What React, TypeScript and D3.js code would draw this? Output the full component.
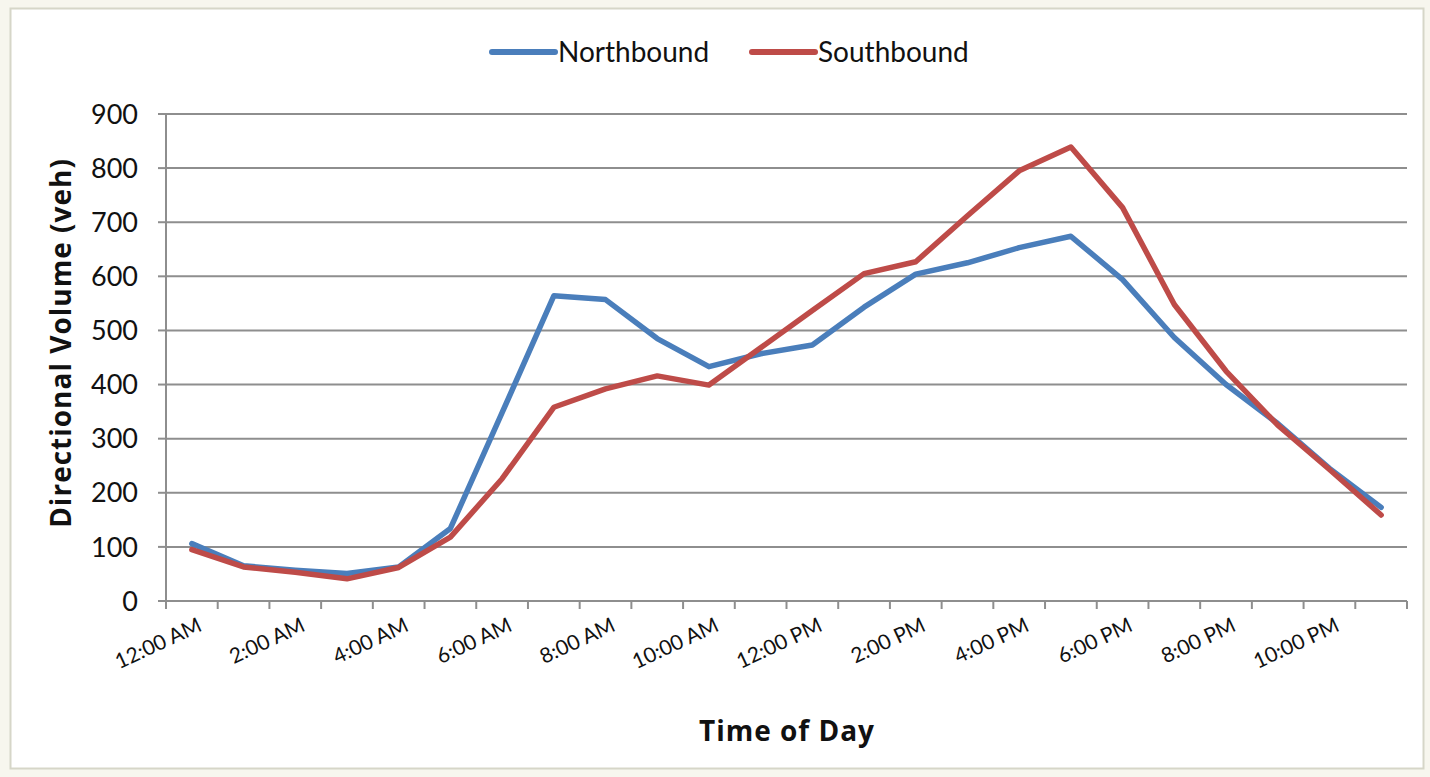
import React, { useEffect, useRef } from 'react';
import * as d3 from 'd3';

const categories = [
  '12:00 AM', '1:00 AM', '2:00 AM', '3:00 AM', '4:00 AM', '5:00 AM',
  '6:00 AM', '7:00 AM', '8:00 AM', '9:00 AM', '10:00 AM', '11:00 AM',
  '12:00 PM', '1:00 PM', '2:00 PM', '3:00 PM', '4:00 PM', '5:00 PM',
  '6:00 PM', '7:00 PM', '8:00 PM', '9:00 PM', '10:00 PM', '11:00 PM',
];
const northbound = [106, 65, 57, 51, 63, 134, 348, 564, 557, 485, 433, 457, 473, 543, 604, 625, 653, 674, 594, 487, 400, 328, 245, 173];
const southbound = [95, 63, 53, 41, 62, 118, 226, 358, 392, 416, 399, 468, 537, 605, 627, 712, 795, 839, 727, 548, 425, 325, 243, 159];
const yTicks = [0, 100, 200, 300, 400, 500, 600, 700, 800, 900];
const seriesNames = ['Northbound', 'Southbound'];
const seriesColors = ['#4a7ebb', '#be4b48'];

const W = 1430;
const H = 777;
const FONT = 'Lato, "Open Sans", sans-serif';
const TITLE_FONT = '"Open Sans", Lato, sans-serif';

export default function App() {
  const ref = useRef<SVGSVGElement | null>(null);

  useEffect(() => {
    const svg = d3.select(ref.current);
    svg.selectAll('*').remove();

    const left = 166, right = 1407, top = 114, bottom = 601;
    const x = d3.scaleBand<string>().domain(categories).range([left, right]).padding(0);
    const y = d3.scaleLinear().domain([0, 900]).range([bottom, top]);

    svg.append('rect').attr('x', 0).attr('y', 0).attr('width', W).attr('height', H).attr('fill', '#f7f6ee');
    svg.append('rect').attr('x', 10.5).attr('y', 8.5).attr('width', 1413).attr('height', 760)
      .attr('fill', '#ffffff').attr('stroke', '#d6d6c8').attr('stroke-width', 2);

    // gridlines
    svg.append('g').selectAll('line').data(yTicks.filter(d => d > 0)).join('line')
      .attr('x1', left).attr('x2', right)
      .attr('y1', d => y(d)).attr('y2', d => y(d))
      .attr('stroke', '#8e8e8e').attr('stroke-width', 2);

    // y axis
    const ya = svg.append('g');
    ya.append('line').attr('x1', left).attr('x2', left).attr('y1', top).attr('y2', bottom)
      .attr('stroke', '#8e8e8e').attr('stroke-width', 2);
    ya.selectAll('line.t').data(yTicks).join('line').attr('class', 't')
      .attr('x1', left - 8).attr('x2', left).attr('y1', d => y(d)).attr('y2', d => y(d))
      .attr('stroke', '#8e8e8e').attr('stroke-width', 2);
    ya.selectAll('text').data(yTicks).join('text')
      .attr('x', 138).attr('y', d => y(d)).attr('dy', '0.36em')
      .attr('text-anchor', 'end').attr('font-family', FONT).attr('font-size', 27)
      .attr('fill', '#111').text(d => String(d));

    // x axis
    const xa = svg.append('g');
    xa.append('line').attr('x1', left).attr('x2', right).attr('y1', bottom).attr('y2', bottom)
      .attr('stroke', '#8e8e8e').attr('stroke-width', 2);
    const boundaries = categories.map(c => x(c) as number).concat([right]);
    xa.selectAll('line.t').data(boundaries).join('line').attr('class', 't')
      .attr('x1', d => d).attr('x2', d => d).attr('y1', bottom).attr('y2', bottom + 8)
      .attr('stroke', '#8e8e8e').attr('stroke-width', 2);
    xa.selectAll('text').data(categories.filter((_, i) => i % 2 === 0)).join('text')
      .attr('transform', c => `translate(${(x(c) as number) + x.bandwidth() / 2 + 5},${bottom + 16}) rotate(-25)`)
      .attr('text-anchor', 'end').attr('dy', '0.7em')
      .attr('font-family', FONT).attr('font-size', 21).attr('fill', '#111').text(c => c);

    // titles
    svg.append('text').attr('x', 787).attr('y', 741).attr('text-anchor', 'middle')
      .attr('font-family', TITLE_FONT).attr('font-weight', 'bold').attr('font-size', 28)
      .attr('letter-spacing', 1).attr('fill', '#111')
      .text('Time of Day');
    svg.append('text').attr('transform', `translate(71,343) rotate(-90)`).attr('text-anchor', 'middle')
      .attr('font-family', TITLE_FONT).attr('font-weight', 'bold').attr('font-size', 28)
      .attr('letter-spacing', 1).attr('fill', '#111')
      .text('Directional Volume (veh)');

    // lines
    const line = d3.line<number>()
      .x((_, i) => (x(categories[i]) as number) + x.bandwidth() / 2)
      .y(d => y(d));
    [northbound, southbound].forEach((s, k) => {
      svg.append('path').datum(s).attr('d', line).attr('fill', 'none')
        .attr('stroke', seriesColors[k]).attr('stroke-width', 5.5)
        .attr('stroke-linejoin', 'round').attr('stroke-linecap', 'round');
    });

    // legend
    const legendX = [492, 752];
    seriesNames.forEach((n, k) => {
      const g = svg.append('g');
      g.append('line').attr('x1', legendX[k]).attr('x2', legendX[k] + 63).attr('y1', 52).attr('y2', 52)
        .attr('stroke', seriesColors[k]).attr('stroke-width', 6).attr('stroke-linecap', 'round');
      g.append('text').attr('x', legendX[k] + 66).attr('y', 52).attr('dy', '0.36em')
        .attr('font-family', FONT).attr('font-size', 28).attr('fill', '#111').text(n);
    });
  }, []);

  return (
    <div style={{ position: 'absolute', left: 0, top: 0 }}>
      <svg ref={ref} width={W} height={H} />
    </div>
  );
}
